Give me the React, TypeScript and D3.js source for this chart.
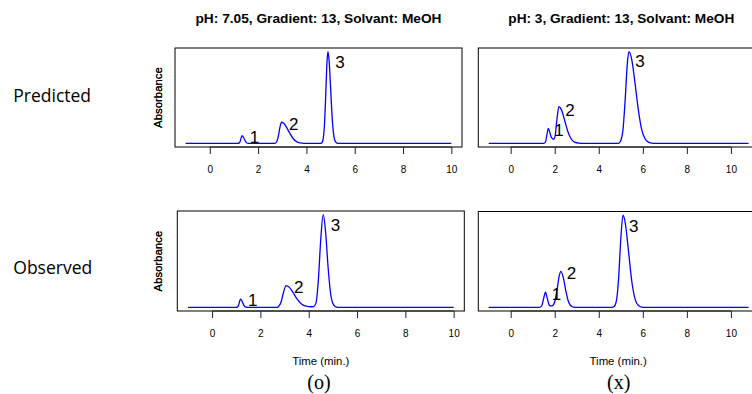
import { useEffect, useRef } from 'react'
import * as d3 from 'd3'

// chromatogram traces: [time (min.), absorbance (rel.)]
const predPh705: [number, number][] = [
  [-1, 0], [1.15, 0], [1.22, 0.005], [1.26, 0.024], [1.3, 0.062], [1.34, 0.085], [1.4, 0.064],
  [1.46, 0.028], [1.52, 0.007], [1.6, 0], [2.7, 0], [2.78, 0.025], [2.84, 0.081], [2.9, 0.17],
  [2.97, 0.23], [3.05, 0.221], [3.15, 0.187], [3.3, 0.115], [3.45, 0.053], [3.6, 0.018],
  [3.75, 0.005], [3.9, 0], [4.6, 0], [4.65, 0.011], [4.7, 0.06], [4.75, 0.22], [4.8, 0.53],
  [4.85, 0.88], [4.89, 1], [4.94, 0.9], [5.0, 0.61], [5.05, 0.35], [5.1, 0.16], [5.15, 0.06],
  [5.2, 0.019], [5.3, 0], [10, 0],
]
const obsPh705: [number, number][] = [
  [-1, 0], [1.0, 0], [1.06, 0.005], [1.1, 0.025], [1.14, 0.065], [1.18, 0.089], [1.24, 0.067],
  [1.3, 0.029], [1.36, 0.007], [1.45, 0], [2.7, 0], [2.75, 0.008], [2.85, 0.051], [2.95, 0.154],
  [3.06, 0.235], [3.2, 0.215], [3.35, 0.16], [3.5, 0.097], [3.7, 0.036], [3.9, 0.012],
  [4.1, 0.006], [4.2, 0.008], [4.3, 0.045], [4.4, 0.3], [4.5, 0.74], [4.6, 1], [4.7, 0.81],
  [4.8, 0.44], [4.9, 0.16], [5.0, 0.04], [5.1, 0.008], [5.2, 0], [10, 0],
]
const predPh3: [number, number][] = [
  [-1, 0], [1.5, 0], [1.55, 0.005], [1.6, 0.03], [1.65, 0.1], [1.71, 0.163], [1.77, 0.125],
  [1.83, 0.075], [1.9, 0.052], [1.97, 0.047], [2.03, 0.1], [2.1, 0.26], [2.19, 0.4], [2.3, 0.368],
  [2.45, 0.252], [2.6, 0.126], [2.75, 0.047], [2.9, 0.013], [3.1, 0.002], [3.25, 0], [4.9, 0],
  [5.0, 0.03], [5.1, 0.15], [5.2, 0.48], [5.3, 0.88], [5.37, 1], [5.5, 0.91], [5.65, 0.65],
  [5.8, 0.36], [5.95, 0.15], [6.1, 0.05], [6.25, 0.013], [6.4, 0.003], [6.6, 0], [10.8, 0],
]
const obsPh3: [number, number][] = [
  [-1, 0], [1.3, 0], [1.35, 0.003], [1.42, 0.022], [1.5, 0.099], [1.58, 0.164], [1.66, 0.099],
  [1.74, 0.03], [1.81, 0.016], [1.9, 0.018], [2.0, 0.06], [2.1, 0.18], [2.2, 0.335], [2.28, 0.39],
  [2.4, 0.312], [2.5, 0.184], [2.6, 0.08], [2.7, 0.026], [2.8, 0.006], [2.9, 0], [4.6, 0],
  [4.7, 0.009], [4.8, 0.07], [4.9, 0.31], [5.0, 0.74], [5.1, 1], [5.2, 0.92], [5.35, 0.61],
  [5.5, 0.28], [5.65, 0.089], [5.8, 0.02], [5.95, 0.003], [6.1, 0], [10.8, 0],
]

// peak number labels: [time, absorbance, label]
const predPh705Labels: [number, number, string][] = [[1.85, 0.072, '1'], [3.48, 0.207, '2'], [5.39, 0.89, '3']]
const obsPh705Labels: [number, number, string][] = [[1.68, 0.081, '1'], [3.59, 0.218, '2'], [5.11, 0.89, '3']]
const predPh3Labels: [number, number, string][] = [[2.19, 0.15, '1'], [2.69, 0.37, '2'], [5.87, 0.9, '3']]
const obsPh3Labels: [number, number, string][] = [[2.08, 0.143, '1'], [2.76, 0.376, '2'], [5.59, 0.88, '3']]

const columnTitles = ['pH: 7.05, Gradient: 13, Solvant: MeOH', 'pH: 3, Gradient: 13, Solvant: MeOH']
const rowTitles = ['Predicted', 'Observed']
const captions = ['(o)', '(x)']
const timeTicks = [0, 2, 4, 6, 8, 10]

export default function App() {
  const svgRef = useRef<SVGSVGElement>(null)

  useEffect(() => {
    if (!svgRef.current) return
    const svg = d3.select(svgRef.current)
    svg.selectAll('*').remove()

    const sans = 'Liberation Sans, Arial, Helvetica, sans-serif'

    const panels = [
      { data: predPh705, labels: predPh705Labels, box: [175, 462, 48, 147], dom: [-1.44, 10.44], row: 0 },
      { data: predPh3, labels: predPh3Labels, box: [478.3, 758, 48, 147], dom: [-1.47, 11.23], row: 0 },
      { data: obsPh705, labels: obsPh705Labels, box: [177.3, 464.3, 211, 311], dom: [-1.44, 10.44], row: 1 },
      { data: obsPh3, labels: obsPh3Labels, box: [478.3, 758, 211.5, 311], dom: [-1.47, 11.23], row: 1 },
    ]

    panels.forEach(p => {
      const [x0, x1, y0, y1] = p.box
      const x = d3.scaleLinear().domain(p.dom).range([x0, x1])
      const y = d3.scaleLinear().domain([-0.04, 1.04]).range([y1, y0])

      const line = d3.line<[number, number]>()
        .x(d => x(d[0]))
        .y(d => y(d[1]))
        .curve(d3.curveMonotoneX)

      svg.append('path')
        .attr('d', line(p.data))
        .attr('fill', 'none')
        .attr('stroke', '#0000ff')
        .attr('stroke-width', 1.3)

      svg.append('rect')
        .attr('x', x0)
        .attr('y', y0)
        .attr('width', x1 - x0)
        .attr('height', y1 - y0)
        .attr('fill', 'none')
        .attr('stroke', '#000')
        .attr('stroke-width', 1)

      // x axis, R style: line from first to last tick
      const axis = svg.append('g')
        .attr('transform', `translate(0,${y1})`)
        .call(d3.axisBottom(x).tickValues(timeTicks).tickSize(7).tickSizeOuter(0))
      axis.select('.domain').remove()
      axis.selectAll('line').attr('stroke', '#222')
      axis.selectAll('text')
        .attr('y', 26)
        .attr('dy', 0)
        .attr('font-family', sans)
        .attr('font-size', 10)
        .attr('fill', '#000')
      svg.append('line')
        .attr('x1', x(0))
        .attr('x2', x(10))
        .attr('y1', y1)
        .attr('y2', y1)
        .attr('stroke', '#222')

      svg.selectAll(null)
        .data(p.labels)
        .enter()
        .append('text')
        .attr('x', d => x(d[0]))
        .attr('y', d => y(d[1]))
        .attr('dy', '0.36em')
        .attr('text-anchor', 'middle')
        .attr('font-family', sans)
        .attr('font-size', 17)
        .text(d => d[2])

      const cx = (x0 + x1) / 2
      const cy = (y0 + y1) / 2
      svg.append('text')
        .attr('transform', `translate(162,${cy}) rotate(-90)`)
        .attr('text-anchor', 'middle')
        .attr('font-family', sans)
        .attr('font-size', 11.4)
        .text('Absorbance')

      if (p.row === 1) {
        svg.append('text')
          .attr('x', cx)
          .attr('y', 364.5)
          .attr('text-anchor', 'middle')
          .attr('font-family', sans)
          .attr('font-size', 11.4)
          .text('Time (min.)')
      }
    })

    // column titles and captions
    ;[318.5, 621.3].forEach((cx, i) => {
      svg.append('text')
        .attr('x', cx)
        .attr('y', 23)
        .attr('text-anchor', 'middle')
        .attr('font-family', sans)
        .attr('font-weight', 'bold')
        .attr('font-size', 12.5)
        .attr('textLength', i === 0 ? 246 : 226)
        .attr('lengthAdjust', 'spacingAndGlyphs')
        .text(columnTitles[i])
    })
    ;[319, 618.7].forEach((cx, i) => {
      svg.append('text')
        .attr('x', cx)
        .attr('y', 389)
        .attr('text-anchor', 'middle')
        .attr('font-family', 'Liberation Serif, Times New Roman, serif')
        .attr('font-size', 20)
        .text(captions[i])
    })

    // row titles
    ;[101.7, 274.3].forEach((by, i) => {
      svg.append('text')
        .attr('x', 13.3)
        .attr('y', by)
        .attr('font-family', 'Open Sans, sans-serif')
        .attr('font-size', 17.5)
        .text(rowTitles[i])
    })
  }, [])

  return (
    <svg
      ref={svgRef}
      width={752}
      height={394}
      style={{ position: 'absolute', left: 0, top: 0, background: '#fff' }}
    />
  )
}
